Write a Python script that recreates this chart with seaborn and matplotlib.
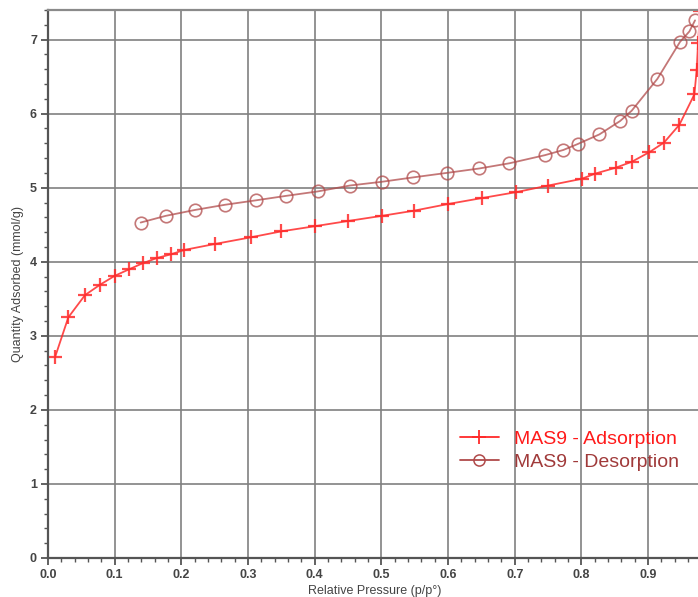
import numpy as np
import pandas as pd
import seaborn as sns
import matplotlib.pyplot as plt
from matplotlib.ticker import MultipleLocator, FixedLocator, FormatStrFormatter
from matplotlib.lines import Line2D

# Adsorption branch (relative pressure, quantity adsorbed in mmol/g)
ads_p = [0.0105, 0.0305, 0.0555, 0.078, 0.100, 0.122, 0.142, 0.163, 0.184, 0.2045,
         0.250, 0.304, 0.3495, 0.400, 0.4495, 0.5005, 0.549, 0.600, 0.6505, 0.702,
         0.7505, 0.8005, 0.8205, 0.8515, 0.8755, 0.902, 0.924, 0.947, 0.9695, 0.973,
         0.975, 0.978]
ads_q = [2.71, 3.25, 3.55, 3.69, 3.81, 3.90, 3.98, 4.05, 4.10, 4.16,
         4.24, 4.33, 4.41, 4.48, 4.55, 4.62, 4.69, 4.78, 4.86, 4.94,
         5.03, 5.12, 5.19, 5.27, 5.35, 5.48, 5.61, 5.85, 6.26, 6.59,
         6.95, 7.38]

# Desorption branch
des_p = [0.139, 0.1765, 0.2205, 0.2655, 0.312, 0.357, 0.4045, 0.453, 0.5005, 0.548,
         0.598, 0.647, 0.692, 0.7455, 0.773, 0.7945, 0.827, 0.858, 0.8755, 0.914,
         0.948, 0.962, 0.9705]
des_q = [4.53, 4.62, 4.70, 4.77, 4.83, 4.89, 4.95, 5.03, 5.08, 5.14,
         5.20, 5.26, 5.33, 5.44, 5.51, 5.59, 5.72, 5.90, 6.04, 6.47,
         6.97, 7.11, 7.26]

x_ticks = [0.0, 0.1, 0.2, 0.3, 0.4, 0.5, 0.6, 0.7, 0.8, 0.9]
y_ticks = [0, 1, 2, 3, 4, 5, 6, 7]

series_names = ["MAS9 - Adsorption", "MAS9 - Desorption"]
ads_color = "#ff2a2a"
des_color = "#b04a4a"

df = pd.concat([
    pd.DataFrame({"p": ads_p, "q": ads_q, "series": series_names[0]}),
    pd.DataFrame({"p": des_p, "q": des_q, "series": series_names[1]}),
], ignore_index=True)

sns.set_theme(style="white")
plt.rcParams['font.family'] = ['Liberation Sans', 'DejaVu Sans']

fig = plt.figure(figsize=(6.98, 5.97), dpi=100)
ax = fig.add_axes([48 / 698, 39 / 597, 666.7 / 698, 548 / 597])

sns.lineplot(data=df[df.series == series_names[0]], x="p", y="q", ax=ax,
             color=ads_color, lw=1.3, alpha=0.85, marker="+", markersize=10,
             markeredgewidth=1.6, markeredgecolor=ads_color, sort=False,
             estimator=None, legend=False)
sns.lineplot(data=df[df.series == series_names[1]], x="p", y="q", ax=ax,
             color=des_color, lw=1.3, alpha=0.75, marker="o", markersize=9,
             markerfacecolor="none", markeredgewidth=1.2,
             markeredgecolor=des_color, sort=False, estimator=None, legend=False)

ax.set_xlim(0, 1.0)
ax.set_ylim(0, 7.4)
ax.xaxis.set_major_locator(FixedLocator(x_ticks))
ax.xaxis.set_minor_locator(MultipleLocator(0.02))
ax.yaxis.set_major_locator(FixedLocator(y_ticks))
ax.yaxis.set_minor_locator(MultipleLocator(0.2))
ax.xaxis.set_major_formatter(FormatStrFormatter("%.1f"))
ax.yaxis.set_major_formatter(FormatStrFormatter("%d"))

ax.grid(True, which="major", color="#808080", lw=1.2)
ax.set_axisbelow(True)

for side in ["left", "bottom"]:
    ax.spines[side].set_color("#555555")
    ax.spines[side].set_linewidth(1.6)
ax.spines["top"].set_color("#8a8a8a")
ax.spines["top"].set_linewidth(1.6)
ax.spines["right"].set_visible(False)

ax.tick_params(axis="both", which="major", direction="out", length=5, width=1.3,
               color="#555555", labelsize=9, labelcolor="#444444", pad=3,
               bottom=True, left=True)
ax.tick_params(axis="both", which="minor", direction="out", length=3, width=1.0,
               color="#555555", bottom=True, left=True)
for lbl in ax.get_xticklabels() + ax.get_yticklabels():
    lbl.set_fontweight("bold")

ax.set_xlabel("Relative Pressure (p/p°)", fontsize=9, color="#444444")
ax.set_ylabel("Quantity Adsorbed (mmol/g)", fontsize=9, color="#444444")
# label positions in axes fractions (the axes runs past the right figure edge)
ax.xaxis.set_label_coords(327 / 666.7, -27 / 548)
ax.yaxis.set_label_coords(-24 / 666.7, 0.5)

handles = [
    Line2D([], [], color=ads_color, lw=1.3, marker="+", markersize=10,
           markeredgewidth=1.3),
    Line2D([], [], color=des_color, lw=1.3, marker="o", markersize=8,
           markerfacecolor="none", markeredgewidth=1.1),
]
leg = ax.legend(handles, series_names, loc="upper left",
                bbox_to_anchor=(412 / 666.7, (558 - 430) / 548), frameon=False,
                fontsize=14, handlelength=2.0, handletextpad=0.8,
                labelspacing=0.28, borderaxespad=0, borderpad=0)
for txt, c in zip(leg.get_texts(), ["#ff1a1a", "#a03a3a"]):
    txt.set_color(c)

fig.savefig("out.png", dpi=100)
